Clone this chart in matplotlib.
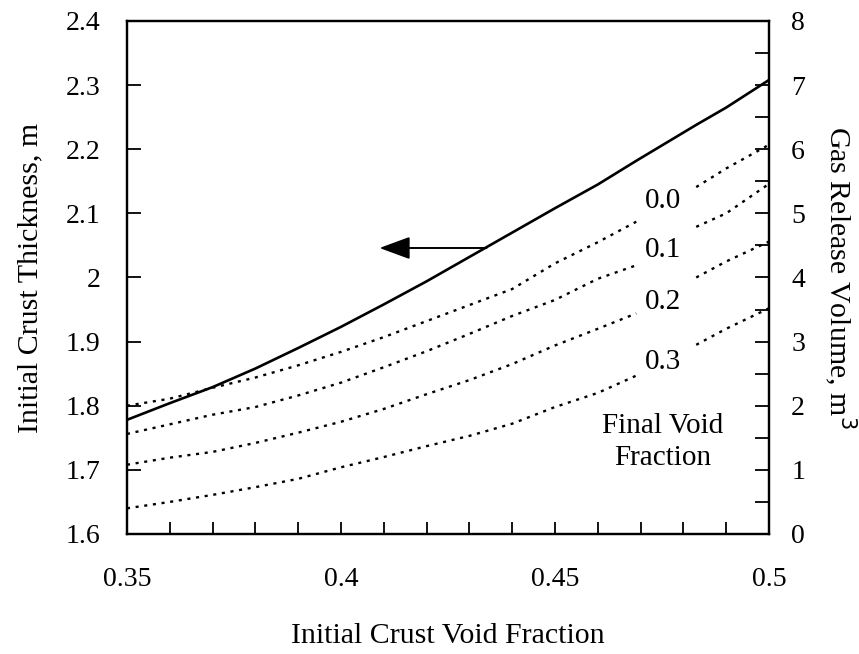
import numpy as np
import matplotlib
matplotlib.use('Agg')
import matplotlib.pyplot as plt
from matplotlib.ticker import MultipleLocator

plt.rcParams['font.family'] = ['Liberation Serif', 'DejaVu Serif']

# initial crust void fraction
void_x = [0.35, 0.36, 0.37, 0.38, 0.39, 0.40, 0.41, 0.42, 0.43, 0.44,
          0.45, 0.46, 0.469, 0.483, 0.49, 0.50]

# initial crust thickness (left axis), m
thickness = [1.778, 1.804, 1.829, 1.858, 1.890, 1.923, 1.958, 1.994, 2.032, 2.070,
             2.108, 2.145, 2.182, 2.238, 2.265, 2.308]

# gas release volume (right axis), m3, for each final void fraction
final_void = ['0.0', '0.1', '0.2', '0.3']
gas_00 = [2.00, 2.11, 2.28, 2.44, 2.63, 2.84, 3.07, 3.32, 3.57, 3.82,
          4.22, 4.55, 4.87, 5.41, 5.70, 6.07]
gas_01 = [1.56, 1.71, 1.86, 1.98, 2.16, 2.36, 2.60, 2.85, 3.12, 3.40,
          3.65, 3.98, 4.19, 4.79, 5.00, 5.46]
gas_02 = [1.08, 1.19, 1.28, 1.42, 1.58, 1.75, 1.95, 2.18, 2.40, 2.65,
          2.94, 3.20, 3.44, 4.00, 4.25, 4.56]
gas_03 = [0.40, 0.50, 0.61, 0.73, 0.86, 1.04, 1.20, 1.37, 1.53, 1.72,
          1.98, 2.20, 2.47, 2.95, 3.20, 3.52]
gas_all = [gas_00, gas_01, gas_02, gas_03]

# label positions (x, gas volume)
label_x = 0.4752
label_y = [5.19, 4.43, 3.62, 2.68]
arrow_y = 2.046
arrow_from = 0.434
arrow_to = 0.409

fig = plt.figure(figsize=(8.59, 6.54), dpi=100)
ax = fig.add_axes([0.1478, 0.1835, 0.7474, 0.7844])
ax2 = ax.twinx()

ax.plot(void_x, thickness, color='black', lw=1.9, solid_capstyle='butt')

x = np.array(void_x)
split = 13  # gap where the curve labels sit
for g in gas_all:
    g = np.array(g)
    ax2.plot(x[:split], g[:split], color='black', lw=1.7, ls=(0, (1.3, 2.4)))
    ax2.plot(x[split:], g[split:], color='black', lw=1.7, ls=(0, (1.3, 2.4)))

for lab, ly in zip(final_void, label_y):
    ax2.text(label_x, ly, lab, ha='center', va='center', fontsize=21)
ax2.text(label_x, 1.43, 'Final Void\nFraction', ha='center', va='center',
         fontsize=21, linespacing=1.3)

ax.annotate('', xy=(arrow_to, arrow_y), xytext=(arrow_from, arrow_y),
            arrowprops=dict(arrowstyle='-|>,head_length=1.9,head_width=0.7',
                            mutation_scale=10, color='black', lw=1.4,
                            shrinkA=0, shrinkB=0))

ax.set_xlim(0.35, 0.5)
ax.set_ylim(1.6, 2.4)
ax2.set_ylim(0, 8)

ax.xaxis.set_minor_locator(MultipleLocator(0.01))
ax2.yaxis.set_major_locator(MultipleLocator(1))
ax2.yaxis.set_minor_locator(MultipleLocator(0.5))

ax.set_xticks([0.35, 0.4, 0.45, 0.5])
ax.set_xticklabels(['0.35', '0.4', '0.45', '0.5'])
ax.set_yticks(np.arange(1.6, 2.41, 0.1))
ax.set_yticklabels(['1.6', '1.7', '1.8', '1.9', '2', '2.1', '2.2', '2.3', '2.4'])

ax.tick_params(axis='x', which='both', direction='in', length=9, width=1.3,
               labelsize=20, pad=24, top=False)
ax.tick_params(axis='y', which='both', direction='in', length=10, width=1.3,
               labelsize=20, pad=19, right=False)
ax2.tick_params(axis='y', which='both', direction='in', length=10, width=1.3,
                labelsize=20, pad=16)

for a in (ax, ax2):
    for s in a.spines.values():
        s.set_linewidth(1.6)

ax.set_xlabel('Initial Crust Void Fraction', fontsize=21.5, labelpad=22)
ax.set_ylabel('Initial Crust Thickness, m', fontsize=21.5, labelpad=16)
ax2.set_ylabel('Gas Release Volume, m$^3$', fontsize=21.5, rotation=270,
               va='bottom', labelpad=12)

fig.savefig('out.png', dpi=100)
